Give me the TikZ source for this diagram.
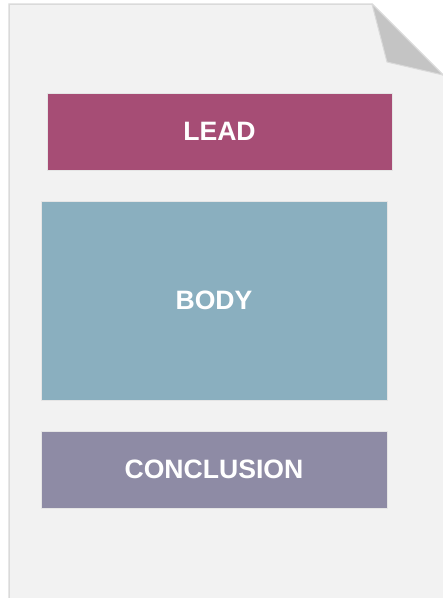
\documentclass[tikz,border=0pt]{standalone}
\usepackage{fontspec}
\setmainfont{Liberation Sans}

\definecolor{pagefill}{HTML}{F2F2F2}
\definecolor{pageline}{HTML}{DADADA}
\definecolor{foldfill}{HTML}{C4C4C4}
\definecolor{leadcol}{HTML}{A64D75}
\definecolor{bodycol}{HTML}{8AAFBF}
\definecolor{conccol}{HTML}{8E8BA5}

\tikzset{
	part/.style={draw=white!90!black,line width=0.3pt,text=white,
		font=\fontsize{26.6}{30}\selectfont\bfseries,inner sep=0pt},
}

\begin{document}
\begin{tikzpicture}[
		x={(1pt,0pt)},
		y={(0pt,-1pt)},
	]
		\useasboundingbox (0,0) rectangle (443,598);
		% sheet with folded corner
		\fill[pagefill] (9,4) -- (372,4) -- (443,75) -- (443,598) -- (9,598) -- cycle;
		\draw[pageline,line width=1.5pt] (9,598) -- (9,4) -- (372,4) -- (443,75);
		\filldraw[fill=foldfill,draw=pageline,line width=1pt,line join=round] (372,4) -- (387,62) -- (443,75) -- cycle;
		
		\node[part,fill=leadcol,minimum width=345pt,minimum height=77pt] (lead) at (219.5,131.5) {LEAD};
		\node[part,fill=bodycol,minimum width=346pt,minimum height=199pt] (body) at (214,300.5) {BODY};
		\node[part,fill=conccol,minimum width=346pt,minimum height=77pt] (conclusion) at (214,469.5) {CONCLUSION};
	\end{tikzpicture}
\end{document}
